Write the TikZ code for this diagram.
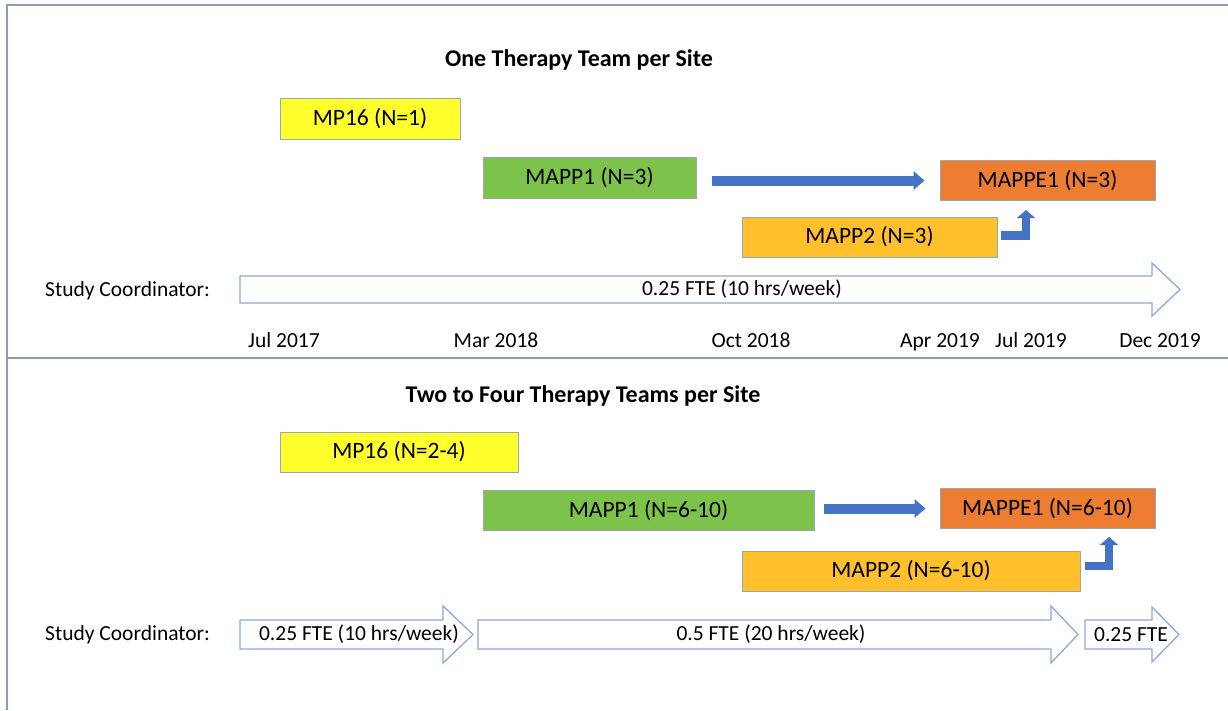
\documentclass[tikz,border=0pt]{standalone}
\usepackage{fontspec}
\setmainfont{Carlito}
\usetikzlibrary{arrows.meta}
\definecolor{frameC}{HTML}{8A9CB8}
\definecolor{boxline}{HTML}{9EA6B2}
\definecolor{yel}{HTML}{FFFF2E}
\definecolor{grn}{HTML}{7DC34B}
\definecolor{org}{HTML}{ED7D31}
\definecolor{gld}{HTML}{FFC02B}
\definecolor{blu}{HTML}{4472C4}
\definecolor{outl}{HTML}{8EA9DB}
\tikzset{
  box/.style={draw=boxline, line width=0.9pt, inner sep=0pt, font=\fontsize{23.5}{26}\selectfont},
  lbl/.style={inner sep=0pt, font=\fontsize{21.5}{24}\selectfont},
  datelbl/.style={inner sep=0pt, anchor=base, font=\fontsize{21.5}{24}\selectfont},
  ttl/.style={inner sep=0pt, font=\fontsize{24}{28}\selectfont\bfseries},
  barrow/.style={draw=blu, line width=10pt, -{Triangle[width=18pt,length=11pt]}},
  bent/.style={draw=blu, line width=8.5pt, line join=miter, -{Triangle[width=18pt,length=8pt]}},
  outarrow/.style={draw=outl, line width=1.3pt, fill=white, line join=miter},
  frm/.style={draw=frameC, line width=1.8pt}
}
\begin{document}
\begin{tikzpicture}[x=1pt,y=-1pt]
\useasboundingbox (0,0) rectangle (1228,710);
% frame
\draw[frm] (1228,5) -- (7,5) -- (7,710);
\draw[frm] (7,358) -- (1228,358);

% ---------- top panel ----------
\node[ttl] (t1) at (579,60) {One Therapy Team per Site};
\node[box, fill=yel, minimum width=180pt, minimum height=41pt] (mp16a) at (370,119) {MP16 (N=1)};
\node[box, fill=grn, minimum width=213pt, minimum height=41pt] (mapp1a) at (589.5,177.5) {MAPP1 (N=3)};
\node[box, fill=org, minimum width=215pt, minimum height=40pt] (mappe1a) at (1047.5,180.5) {MAPPE1 (N=3)};
\node[box, fill=gld, minimum width=255pt, minimum height=40pt] (mapp2a) at (869.5,237) {MAPP2 (N=3)};
\draw[barrow, shorten <=16pt, shorten >=15pt] (mapp1a.east |- mappe1a.west) -- (mappe1a.west);
\coordinate (up1) at (1026,210);
\draw[bent] ([xshift=4pt,yshift=1.5pt]mapp2a.east) -| (up1);

\node[lbl, anchor=west] (sc1) at (45,291) {Study Coordinator:};
\draw[outarrow] (240,276) -- (1152,276) -- (1152,263) -- (1180,289.5) -- (1152,316) -- (1152,303) -- (240,303) -- cycle;
\node[lbl] (fte1) at (742,289.5) {0.25 FTE (10 hrs/week)};

\node[datelbl] (d1) at (284,347.5) {Jul 2017};
\node[datelbl] (d2) at (496,347.5) {Mar 2018};
\node[datelbl] (d3) at (751,347.5) {Oct 2018};
\node[datelbl] (d4) at (940,347.5) {Apr 2019};
\node[datelbl] (d5) at (1031,347.5) {Jul 2019};
\node[datelbl] (d6) at (1160,347.5) {Dec 2019};

% ---------- bottom panel ----------
\node[ttl] (t2) at (583,396) {Two to Four Therapy Teams per Site};
\node[box, fill=yel, minimum width=238pt, minimum height=40pt] (mp16b) at (399,452) {MP16 (N=2-4)};
\node[box, fill=grn, minimum width=331pt, minimum height=40pt] (mapp1b) at (648.5,510.5) {MAPP1 (N=6-10)};
\node[box, fill=org, minimum width=215pt, minimum height=40pt] (mappe1b) at (1047.5,508.5) {MAPPE1 (N=6-10)};
\node[box, fill=gld, minimum width=338pt, minimum height=40pt] (mapp2b) at (911,571) {MAPP2 (N=6-10)};
\draw[barrow, shorten <=10pt, shorten >=14pt] (mapp1b.east |- mappe1b.west) -- (mappe1b.west);
\coordinate (up2) at (1109,537);
\draw[bent] ([xshift=5pt,yshift=5pt]mapp2b.east) -| (up2);

\node[lbl, anchor=west] (sc2) at (45,634.5) {Study Coordinator:};
\draw[outarrow] (240,620) -- (443,620) -- (443,606) -- (473,634.5) -- (443,663) -- (443,649) -- (240,649) -- cycle;
\draw[outarrow] (478,620) -- (1051,620) -- (1051,606) -- (1078,634.5) -- (1051,663) -- (1051,649) -- (478,649) -- cycle;
\draw[outarrow] (1085,620) -- (1152,620) -- (1152,607) -- (1179,634.5) -- (1152,662) -- (1152,649) -- (1085,649) -- cycle;
\node[lbl] (fte2) at (359,634.5) {0.25 FTE (10 hrs/week)};
\node[lbl] (fte3) at (771,634.5) {0.5 FTE (20 hrs/week)};
\node[lbl] (fte4) at (1131,634.5) {0.25 FTE};
\end{tikzpicture}
\end{document}
